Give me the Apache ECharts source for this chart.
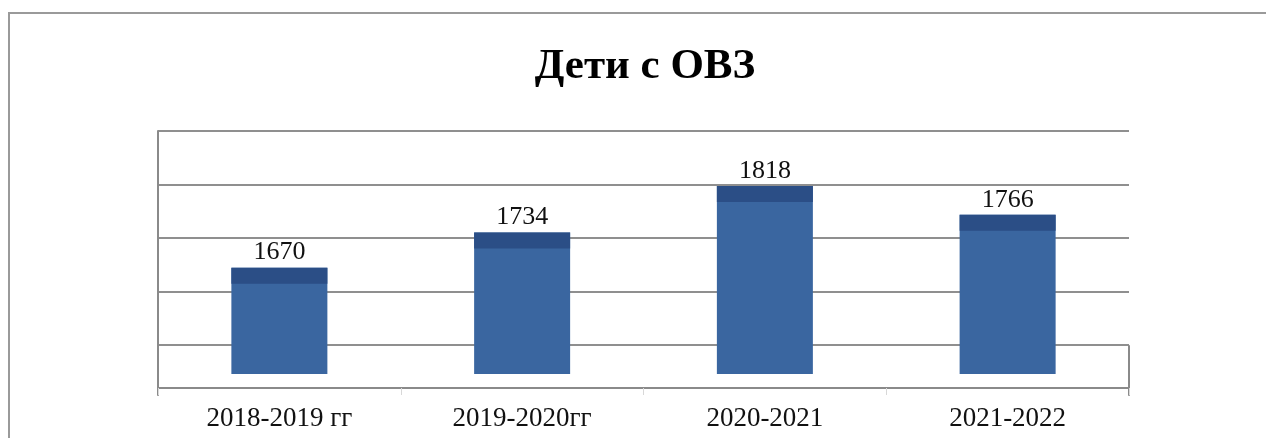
<!DOCTYPE html>
<html>
<head>
<meta charset="utf-8">
<script src="https://cdn.jsdelivr.net/npm/echarts@6/dist/echarts.min.js"></script>
<style>
html,body{margin:0;padding:0;background:#fff;}
#chart{width:1266px;height:438px;}
</style>
</head>
<body>
<div id="chart"></div>
<script>
const titleText = 'Дети с ОВЗ';
const categories = ['2018-2019 гг', '2019-2020гг', '2020-2021', '2021-2022'];
const values = [1670, 1734, 1818, 1766];

const chart = echarts.init(document.getElementById('chart'), null, {renderer: 'canvas'});
const serif = '"Liberation Serif", "DejaVu Serif", serif';
const L = 158, R = 137;

const option = {
  backgroundColor: '#ffffff',
  animation: false,
  title: {
    text: titleText,
    left: 640,
    top: 40,
    textAlign: 'center',
    textStyle: {fontFamily: serif, fontSize: 43, fontWeight: 'bold', color: '#000'}
  },
  graphic: [{
    type: 'rect',
    shape: {x: 9, y: 13, width: 1300, height: 500},
    style: {fill: 'none', stroke: '#9a9a9a', lineWidth: 2},
    silent: true
  }],
  grid: [
    {left: L, right: R, top: 131, bottom: 64},
    {left: L, right: R, top: 131, bottom: 93},
    {left: L, right: R, top: 131, bottom: 43},
    {left: L, right: R, top: 346, bottom: 43}
  ],
  xAxis: [
    {
      gridIndex: 0, type: 'category', data: categories, offset: 14,
      axisLine: {show: true, lineStyle: {color: '#8a8a8a', width: 2}},
      axisTick: {show: true, length: 7, lineStyle: {color: '#d8d8d8'}},
      axisLabel: {fontFamily: serif, fontSize: 27, color: '#111', margin: 17}
    },
    {gridIndex: 1, type: 'category', data: categories, show: false},
    {gridIndex: 2, type: 'category', data: categories, show: false},
    {gridIndex: 3, type: 'category', data: categories, show: false}
  ],
  yAxis: [
    {gridIndex: 0, type: 'value', min: 1477, max: 1918, show: false},
    {
      gridIndex: 1, type: 'value', min: 0, max: 4, interval: 1,
      axisLine: {show: false}, axisTick: {show: false}, axisLabel: {show: false},
      splitLine: {show: true, lineStyle: {color: '#8f8f8f', width: 2}}
    },
    {
      gridIndex: 2, type: 'value', min: 0, max: 1, position: 'left',
      axisLine: {show: true, lineStyle: {color: '#8a8a8a', width: 2}},
      axisTick: {show: false}, axisLabel: {show: false}, splitLine: {show: false}
    },
    {
      gridIndex: 3, type: 'value', min: 0, max: 1, position: 'right',
      axisLine: {show: true, lineStyle: {color: '#8a8a8a', width: 2}},
      axisTick: {show: false}, axisLabel: {show: false}, splitLine: {show: false}
    }
  ],
  series: [
    {
      type: 'bar', xAxisIndex: 0, yAxisIndex: 0, data: values, barWidth: 96,
      itemStyle: {color: '#3A66A0'},
      label: {show: true, position: 'top', distance: 2, fontFamily: serif, fontSize: 26, color: '#111'},
      z: 2
    },
    {
      type: 'pictorialBar', xAxisIndex: 0, yAxisIndex: 0, data: values,
      symbol: 'rect', symbolSize: [96, 16], symbolPosition: 'end', symbolOffset: [0, 0],
      itemStyle: {color: '#2B4E86'}, z: 3, silent: true
    }
  ]
};
chart.setOption(option);
</script>
</body>
</html>
